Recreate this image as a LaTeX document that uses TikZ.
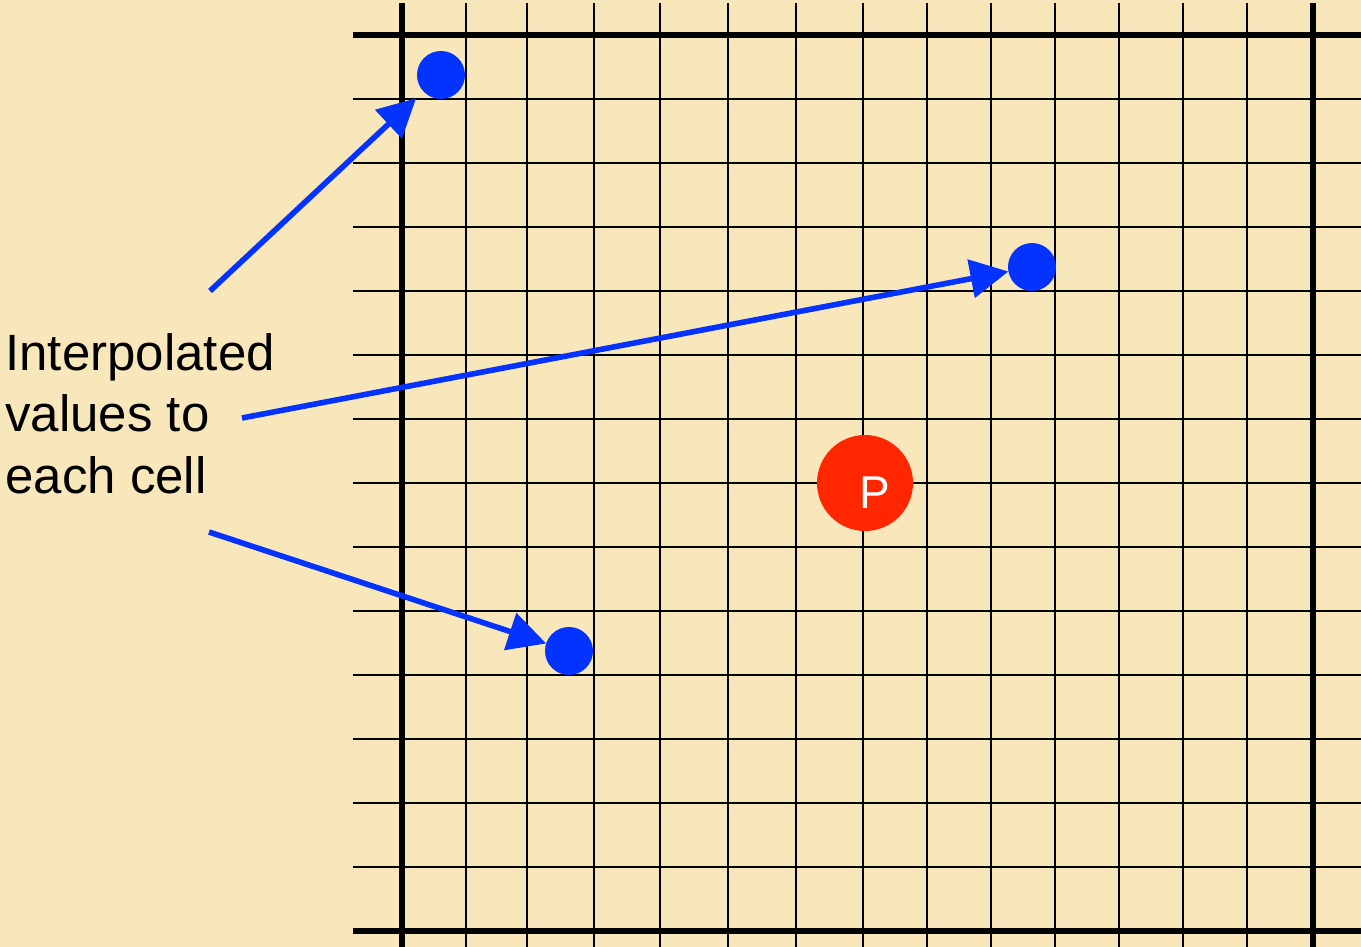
\documentclass[tikz,border=0pt]{standalone}
\usepackage{fontspec}
\setmainfont{Liberation Sans}
\usetikzlibrary{arrows.meta}
\definecolor{bgyellow}{HTML}{F9E7BC}
\definecolor{dotblue}{HTML}{0433FF}
\definecolor{pred}{HTML}{FF2600}
\tikzset{
  thinline/.style={black, line width=1.35pt},
  thickline/.style={black, line width=3pt},
  bluedot/.style={circle, fill=dotblue, draw=none, minimum size=24pt, inner sep=0pt, outer sep=0pt},
  pdot/.style={circle, fill=pred, draw=none, minimum size=48pt, inner sep=0pt, outer sep=0pt},
  pointer/.style={dotblue, line width=2.8pt, -{Triangle[length=19pt,width=19pt]}},
  labeltext/.style={anchor=base west, inner sep=0pt, font=\fontsize{25.5pt}{31pt}\selectfont},
}
\begin{document}
\begin{tikzpicture}[x=0.5pt,y=-0.5pt]
  \fill[bgyellow] (0,0) rectangle (1361,947);
  \useasboundingbox (0,0) rectangle (1361,947);
  % horizontal grid lines
  \foreach \j in {1,...,13} {
    \draw[thinline] (353,{35+64*\j}) -- (1361,{35+64*\j});
  }
  % vertical grid lines
  \foreach \x in {466,527,594,660,728,796,863,927,991,1055,1119,1183,1247} {
    \draw[thinline] (\x,3) -- (\x,947);
  }
  \draw[thickline] (353,35) -- (1361,35);
  \draw[thickline] (353,931) -- (1361,931);
  \draw[thickline] (402,3) -- (402,947);
  \draw[thickline] (1313,3) -- (1313,947);

  % dots
  \node[bluedot] (d1) at (441,75) {};
  \node[bluedot] (d2) at (1032,267) {};
  \node[bluedot] (d3) at (569,651) {};
  \node[pdot] (P) at (865,483) {};
  \node[text=white, inner sep=0pt, font=\fontsize{23pt}{27pt}\selectfont] (Ptext) at (875,493) {P};

  % label text
  \node[labeltext] (t1) at (5,370) {Interpolated};
  \node[labeltext] (t2) at (5,431) {values to};
  \node[labeltext] (t3) at (5,493) {each cell};

  % arrow starts
  \coordinate (s1) at (210,291);
  \coordinate (s2) at (242,418);
  \coordinate (s3) at (209,532);

  \draw[pointer, shorten >=5pt] (s1) -- (d1);
  \draw[pointer] (s2) -- (d2);
  \draw[pointer] (s3) -- (d3);
\end{tikzpicture}
\end{document}
